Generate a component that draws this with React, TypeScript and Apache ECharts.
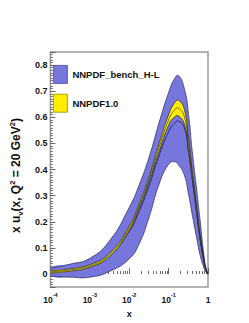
import React, { useEffect, useRef } from 'react';
import * as echarts from 'echarts';

// x positions (log-spaced sample points of the curves)
const X = [0.0001, 0.000316, 0.001, 0.00316, 0.01, 0.0178, 0.0316, 0.0562, 0.1, 0.141, 0.178, 0.251, 0.316, 0.398, 0.501, 0.631, 0.794, 0.891, 1];

// NNPDF_bench_H-L band
const BENCH_UPPER = [0.023, 0.038, 0.06, 0.127, 0.255, 0.34, 0.445, 0.575, 0.695, 0.748, 0.76, 0.71, 0.62, 0.47, 0.34, 0.205, 0.068, 0.022, 0];
const BENCH_LOWER = [-0.007, -0.012, -0.012, 0.01, 0.058, 0.115, 0.215, 0.34, 0.42, 0.43, 0.418, 0.378, 0.31, 0.228, 0.148, 0.072, 0.022, 0.007, 0];
const BENCH_CENTRAL = [0.008, 0.014, 0.028, 0.07, 0.163, 0.24, 0.335, 0.45, 0.545, 0.578, 0.585, 0.56, 0.475, 0.365, 0.25, 0.135, 0.045, 0.015, 0];

// NNPDF1.0 band
const NN_UPPER = [0.012, 0.020, 0.036, 0.079, 0.183, 0.268, 0.37, 0.495, 0.61, 0.655, 0.665, 0.63, 0.525, 0.395, 0.272, 0.15, 0.055, 0.019, 0];
const NN_LOWER = [0.004, 0.011, 0.026, 0.067, 0.167, 0.25, 0.35, 0.465, 0.57, 0.601, 0.605, 0.574, 0.481, 0.363, 0.248, 0.134, 0.047, 0.015, 0];
const NN_CENTRAL = [0.008, 0.0155, 0.031, 0.073, 0.175, 0.259, 0.36, 0.48, 0.59, 0.628, 0.635, 0.602, 0.503, 0.379, 0.26, 0.142, 0.051, 0.017, 0];

const LEGEND_NAMES = ['NNPDF_bench_H-L', 'NNPDF1.0'];

const BLUE = '#7676dc';
const YELLOW = '#ffee00';
const FONT = '"Liberation Sans", Arial, Helvetica, sans-serif';
const SMOOTH = 0.5;

function bandSeries(name: string, up: number[], lo: number[], central: number[], fill: string,
  edgeColor: string, centralColor: string, centralWidth: number, z: number) {
  return {
    type: 'custom', name, z, silent: true,
    itemStyle: { color: fill },
    encode: { x: 0, y: [1, 2] },
    data: X.map((x, i) => [x, up[i], lo[i], central[i]]),
    renderItem: (params: any, api: any) => {
      if (params.dataIndex !== 0) return null;
      const U = X.map((x, i) => api.coord([x, up[i]]));
      const L = X.map((x, i) => api.coord([x, lo[i]]));
      const C = X.map((x, i) => api.coord([x, central[i]]));
      const poly = U.concat(L.slice(0, -1).reverse());
      const cs = params.coordSys;
      return {
        type: 'group',
        clipPath: { type: 'rect', shape: { x: cs.x, y: cs.y, width: cs.width, height: cs.height } },
        children: [
          { type: 'polygon', shape: { points: poly, smooth: SMOOTH }, style: { fill, stroke: null } },
          { type: 'polyline', shape: { points: C, smooth: SMOOTH }, style: { stroke: centralColor, lineWidth: centralWidth, fill: null } },
          { type: 'polyline', shape: { points: U, smooth: SMOOTH }, style: { stroke: edgeColor, lineWidth: 0.7, fill: null } },
          { type: 'polyline', shape: { points: L, smooth: SMOOTH }, style: { stroke: edgeColor, lineWidth: 0.7, fill: null } },
        ],
      };
    },
  };
}

export default function App() {
  const ref = useRef<HTMLDivElement>(null);
  useEffect(() => {
    document.body.style.margin = '0';
    const chart = echarts.init(ref.current as HTMLDivElement, null, { renderer: 'svg' });

    const option: any = {
      animation: false,
      grid: {
        left: 31, top: 52, right: 41, bottom: 30, show: true,
        borderColor: '#9a9a9a', borderWidth: 1.5, backgroundColor: 'transparent',
      },
      legend: {
        orient: 'vertical', left: 48, top: 60, itemWidth: 14, itemHeight: 18, itemGap: 10,
        icon: 'rect', selectedMode: false,
        textStyle: { fontFamily: FONT, fontWeight: 'bold', fontSize: 9.5, color: '#111' },
        data: [
          { name: LEGEND_NAMES[0], itemStyle: { color: BLUE, borderColor: '#4a4a99', borderWidth: 0.8 } },
          { name: LEGEND_NAMES[1], itemStyle: { color: YELLOW, borderColor: '#9a8600', borderWidth: 0.8 } },
        ],
      },
      xAxis: {
        type: 'log', logBase: 10, min: 0.0001, max: 1,
        axisLine: { show: false },
        axisTick: { show: true, inside: true, length: 6, lineStyle: { color: '#444', width: 0.8 } },
        minorTick: { show: true, splitNumber: 9, length: 3, lineStyle: { color: '#444', width: 0.8 } },
        splitLine: { show: false },
        minorSplitLine: { show: false },
        axisLabel: {
          margin: 5,
          formatter: (v: number) => {
            if (Math.abs(v - 1) < 1e-9) return '{b|1}';
            const e = Math.round(Math.log10(v));
            return '{b|10}{s|' + e + '}';
          },
          rich: {
            b: { fontFamily: FONT, fontWeight: 'bold', fontSize: 8.5, color: '#111', lineHeight: 12, verticalAlign: 'bottom' },
            s: { fontFamily: FONT, fontWeight: 'bold', fontSize: 5.5, color: '#111', lineHeight: 12, verticalAlign: 'top' },
          },
        },
        name: 'x', nameLocation: 'middle', nameGap: 17,
        nameTextStyle: { fontFamily: FONT, fontWeight: 'bold', fontSize: 9, color: '#111' },
      },
      yAxis: {
        type: 'value', min: -0.05, max: 0.85, splitNumber: 9,
        axisLine: { show: false },
        axisTick: { show: true, inside: true, length: 5, lineStyle: { color: '#444', width: 0.8 } },
        minorTick: { show: true, splitNumber: 10, length: 2.5, lineStyle: { color: '#444', width: 0.7 } },
        splitLine: { show: false },
        axisLabel: {
          margin: 3, fontFamily: FONT, fontWeight: 'bold', fontSize: 9, color: '#111',
          formatter: (v: number) => (v < -0.001 || v > 0.801 ? '' : String(Math.round(v * 10) / 10)),
        },
        name: '{m|x u}{sub|v}{m|(x, Q}{sup|2}{m| = 20 GeV}{sup|2}{m|)}',
        nameLocation: 'middle', nameRotate: 90, nameGap: 12,
        nameTextStyle: {
          fontFamily: FONT, fontWeight: 'bold', fontSize: 12, color: '#111', padding: [0, 12, 0, 0],
          rich: {
            m: { fontFamily: FONT, fontWeight: 'bold', fontSize: 12, color: '#111', lineHeight: 16, verticalAlign: 'middle' },
            sup: { fontFamily: FONT, fontWeight: 'bold', fontSize: 7.5, color: '#111', lineHeight: 16, verticalAlign: 'top' },
            sub: { fontFamily: FONT, fontWeight: 'bold', fontSize: 7.5, color: '#111', lineHeight: 16, verticalAlign: 'bottom' },
          },
        },
      },
      series: [
        bandSeries(LEGEND_NAMES[0], BENCH_UPPER, BENCH_LOWER, BENCH_CENTRAL, BLUE, '#2a2a55', '#26266a', 0.9, 3),
        bandSeries(LEGEND_NAMES[1], NN_UPPER, NN_LOWER, NN_CENTRAL, YELLOW, '#222', '#333', 0.7, 5),
      ],
    };
    chart.setOption(option);
    return () => chart.dispose();
  }, []);
  return <div ref={ref} style={{ width: 249, height: 323 }} />;
}
